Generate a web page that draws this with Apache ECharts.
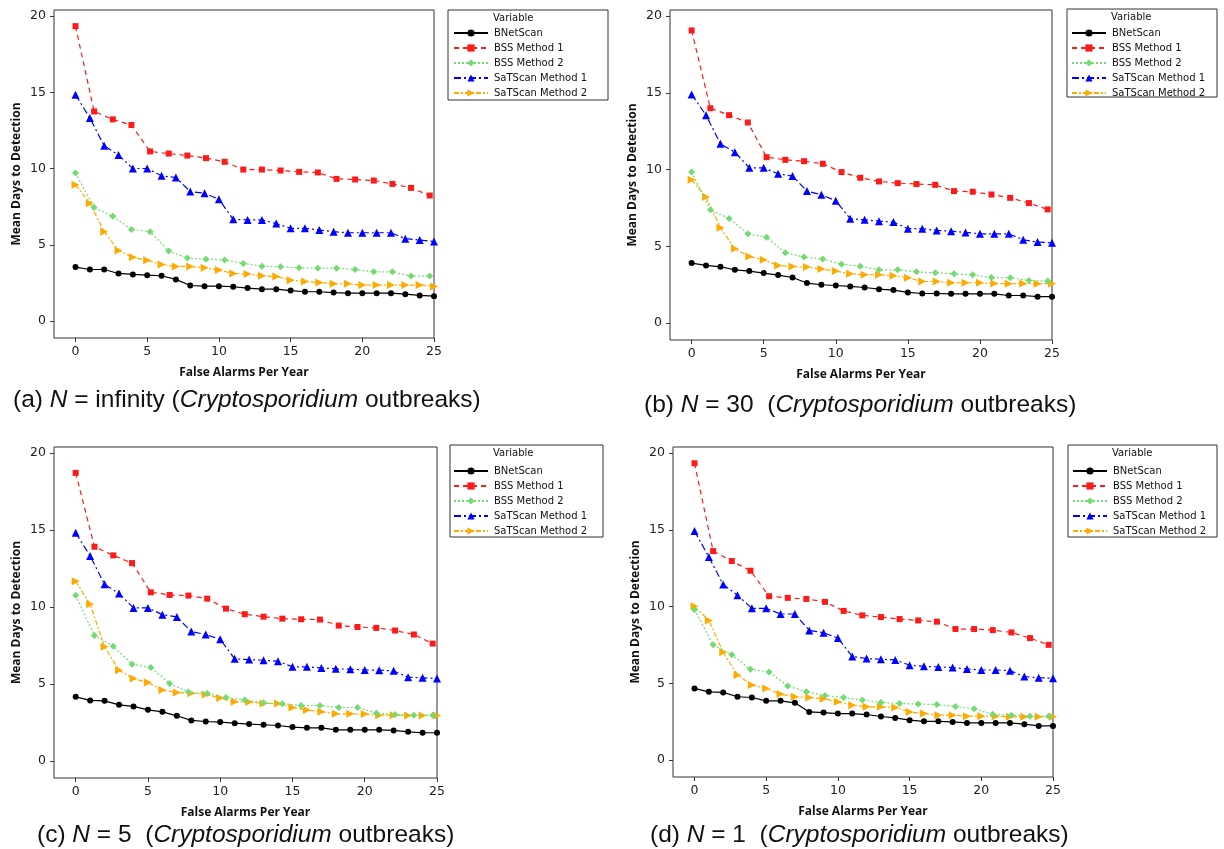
<!DOCTYPE html>
<html><head><meta charset="utf-8">
<script src="https://cdn.jsdelivr.net/npm/echarts@6.0.0/dist/echarts.min.js"></script>
<style>html,body{margin:0;padding:0;background:#fff}#c{width:1224px;height:849px}</style>
</head><body><div id="c"></div>
<script>
// ---------- data ----------
const seriesNames = ['BNetScan','BSS Method 1','BSS Method 2','SaTScan Method 1','SaTScan Method 2'];
const xTicks = [0,5,10,15,20,25];
const yTicks = [0,5,10,15,20];
// false alarms per year (x) for BNetScan / SaTScan series
const xInt = [0,1,2,3,4,5,6,7,8,9,10,11,12,13,14,15,16,17,18,19,20,21,22,23,24,25];
// false alarms per year (x) for BSS series
const xBss = [0,1.3,2.6,3.9,5.2,6.5,7.8,9.1,10.4,11.7,13,14.3,15.6,16.9,18.2,19.5,20.8,22.1,23.4,24.7];

// (a) N = infinity
const bnA   = [3.55,3.39,3.39,3.13,3.07,3.02,2.98,2.74,2.34,2.30,2.30,2.26,2.17,2.10,2.10,2.01,1.93,1.93,1.88,1.84,1.84,1.84,1.84,1.77,1.69,1.64];
const bss1A = [19.34,13.75,13.23,12.86,11.13,10.99,10.86,10.69,10.45,9.94,9.94,9.88,9.79,9.75,9.33,9.29,9.22,9.00,8.74,8.24];
const bss2A = [9.72,7.45,6.88,6.02,5.87,4.60,4.14,4.07,4.01,3.79,3.61,3.57,3.50,3.48,3.48,3.39,3.24,3.24,2.96,2.96];
const sat1A = [14.85,13.32,11.50,10.89,10.01,10.01,9.53,9.42,8.50,8.39,7.99,6.68,6.64,6.64,6.40,6.09,6.09,5.98,5.87,5.80,5.80,5.80,5.80,5.41,5.32,5.23];
const sat2A = [8.94,7.73,5.87,4.64,4.20,3.99,3.72,3.59,3.59,3.50,3.35,3.13,3.09,2.98,2.93,2.69,2.61,2.54,2.45,2.45,2.37,2.37,2.37,2.37,2.37,2.28];
// (b) N = 30
const bnB   = [3.91,3.76,3.67,3.47,3.39,3.26,3.13,2.97,2.61,2.50,2.45,2.39,2.32,2.21,2.15,2.00,1.93,1.93,1.91,1.91,1.91,1.91,1.80,1.80,1.72,1.72];
const bss1B = [19.07,14.00,13.55,13.07,10.81,10.64,10.55,10.38,9.84,9.47,9.23,9.12,9.06,9.01,8.60,8.56,8.38,8.16,7.82,7.41];
const bss2B = [9.84,7.38,6.82,5.82,5.60,4.58,4.30,4.17,3.84,3.71,3.47,3.47,3.34,3.28,3.21,3.15,2.97,2.95,2.78,2.74];
const sat1B = [14.90,13.55,11.68,11.14,10.12,10.12,9.73,9.58,8.60,8.36,7.97,6.80,6.73,6.64,6.58,6.15,6.15,6.04,5.99,5.91,5.82,5.82,5.82,5.43,5.28,5.23];
const sat2B = [9.34,8.21,6.21,4.84,4.34,4.13,3.76,3.69,3.65,3.52,3.39,3.21,3.15,3.15,3.08,2.95,2.71,2.71,2.63,2.63,2.63,2.58,2.56,2.58,2.56,2.58];
// (c) N = 5
const bnC   = [4.17,3.94,3.91,3.65,3.55,3.33,3.20,2.94,2.64,2.57,2.53,2.46,2.40,2.36,2.31,2.21,2.16,2.16,2.03,2.03,2.03,2.03,1.99,1.90,1.84,1.84];
const bss1C = [18.72,13.92,13.36,12.86,10.96,10.79,10.75,10.55,9.90,9.54,9.38,9.25,9.21,9.19,8.80,8.71,8.65,8.48,8.22,7.63];
const bss2C = [10.77,8.15,7.46,6.29,6.08,5.04,4.48,4.39,4.13,3.96,3.78,3.72,3.61,3.61,3.48,3.48,3.11,3.03,2.98,2.98];
const sat1C = [14.83,13.32,11.48,10.88,9.95,9.95,9.51,9.36,8.41,8.22,7.91,6.64,6.59,6.55,6.49,6.12,6.12,6.05,5.99,5.97,5.92,5.90,5.86,5.45,5.41,5.36];
const sat2C = [11.68,10.18,7.42,5.90,5.36,5.10,4.61,4.45,4.41,4.32,4.09,3.85,3.83,3.74,3.74,3.48,3.31,3.20,3.07,3.07,3.05,2.98,2.98,2.96,2.96,2.96];
// (d) N = 1
const bnD   = [4.67,4.45,4.41,4.13,4.08,3.86,3.86,3.73,3.14,3.10,3.03,3.03,2.97,2.84,2.75,2.60,2.53,2.53,2.49,2.42,2.42,2.42,2.42,2.34,2.23,2.23];
const bss1D = [19.34,13.62,12.97,12.34,10.68,10.57,10.50,10.31,9.72,9.43,9.32,9.19,9.10,9.02,8.54,8.54,8.47,8.32,7.95,7.51];
const bss2D = [9.80,7.51,6.86,5.92,5.74,4.83,4.45,4.21,4.08,3.91,3.76,3.69,3.65,3.62,3.49,3.34,2.99,2.93,2.86,2.86];
const sat1D = [14.93,13.23,11.44,10.74,9.89,9.89,9.52,9.52,8.45,8.30,7.95,6.75,6.62,6.57,6.53,6.18,6.11,6.07,6.03,5.94,5.87,5.87,5.83,5.44,5.37,5.33];
const sat2D = [10.02,9.10,7.03,5.55,4.89,4.67,4.30,4.13,4.08,4.00,3.80,3.58,3.47,3.47,3.43,3.14,3.03,2.93,2.93,2.86,2.86,2.86,2.82,2.82,2.82,2.82];

const captionsN = ['infinity','30 ','5 ','1 '];
const captionsL = ['(a)','(b)','(c)','(d)'];

// ---------- layout / styles ----------
const panels = [
  {grid:{left:54, top:10, width:380, height:328}, legend:{left:453, top:27}, box:[448,10,160,90], ys:[bnA,bss1A,bss2A,sat1A,sat2A], cap:{left:13, top:388}},
  {grid:{left:670, top:10, width:382, height:330}, legend:{left:1071, top:27}, box:[1067,9,150,88], ys:[bnB,bss1B,bss2B,sat1B,sat2B], cap:{left:644, top:393}},
  {grid:{left:54, top:447, width:383, height:331}, legend:{left:453, top:465}, box:[450,445,153,92], ys:[bnC,bss1C,bss2C,sat1C,sat2C], cap:{left:37, top:823}},
  {grid:{left:673, top:447, width:380, height:330}, legend:{left:1072, top:465}, box:[1068,445,149,92], ys:[bnD,bss1D,bss2D,sat1D,sat2D], cap:{left:650, top:823}}
];
const styles = [
  {color:'#000000', symbol:'circle', size:6, rot:0, dash:'solid', xs:xInt},
  {color:'#ff1a1a', symbol:'rect', size:6, rot:0, dash:[5,4], xs:xBss},
  {color:'#72dc72', symbol:'diamond', size:7, rot:0, dash:[2,2], xs:xBss},
  {color:'#0000ff', symbol:'triangle', size:8, rot:0, dash:[7,3,2,3], xs:xInt},
  {color:'#ffaa00', symbol:'triangle', size:8, rot:-90, dash:[5,2,2,2], xs:xInt}
];

const grids=[], xAxes=[], yAxes=[], series=[], legends=[], titles=[], graphics=[];
const axFont = {fontFamily:'DejaVu Sans', fontSize:12.5, color:'#222'};
const nameFont = {fontFamily:'Open Sans', fontWeight:'bold', fontSize:12, color:'#111'};

panels.forEach((p, k) => {
  grids.push(Object.assign({show:true, borderColor:'#333', borderWidth:1, backgroundColor:'#fff'}, p.grid));
  xAxes.push({type:'value', gridIndex:k, min:-1.5, max:25, position:'bottom',
    name:'False Alarms Per Year', nameLocation:'middle', nameGap:29, nameTextStyle:nameFont,
    axisLine:{show:false, onZero:false}, splitLine:{show:false},
    axisTick:{show:true, inside:false, length:4, lineStyle:{color:'#333'}, customValues:xTicks},
    axisLabel:Object.assign({margin:7, customValues:xTicks}, axFont)});
  yAxes.push({type:'value', gridIndex:k, min:-1.1, max:20.4, position:'left',
    name:'Mean Days to Detection', nameLocation:'middle', nameGap:31, nameRotate:90, nameTextStyle:nameFont,
    axisLine:{show:false, onZero:false}, splitLine:{show:false},
    axisTick:{show:true, inside:false, length:4, lineStyle:{color:'#333'}, customValues:yTicks},
    axisLabel:Object.assign({margin:8, customValues:yTicks}, axFont)});
  styles.forEach((s, j) => {
    const ys = p.ys[j];
    series.push({type:'line', name:seriesNames[j], xAxisIndex:k, yAxisIndex:k,
      data: ys.map((v,i)=>[s.xs[i], v]),
      symbol:s.symbol, symbolSize:s.size, symbolRotate:s.rot, showAllSymbol:true,
      itemStyle:{color:s.color}, lineStyle:{color:s.color, width:1.2, type:s.dash},
      animation:false, z:10-j});
  });
  legends.push({orient:'vertical', left:p.legend.left, top:p.legend.top, padding:0,
    itemWidth:34, itemHeight:9, itemGap:3, data:seriesNames.slice(), selectedMode:false,
    textStyle:{fontFamily:'DejaVu Sans', fontSize:10, color:'#111', lineHeight:12, padding:[0,0,0,1]}});
  graphics.push({type:'rect', shape:{x:p.box[0], y:p.box[1], width:p.box[2], height:p.box[3]},
    style:{fill:'none', stroke:'#333', lineWidth:1}, silent:true});
  graphics.push({type:'text', left:p.legend.left+40, top:p.box[1]+3,
    style:{text:'Variable', font:'10px "DejaVu Sans"', fill:'#111'}, silent:true});
  titles.push({left:p.cap.left, top:p.cap.top, padding:0,
    text:'{n|'+captionsL[k]+' }{i|N}{n| = '+captionsN[k]+' (}{i|Cryptosporidium}{n| outbreaks)}',
    textStyle:{fontWeight:'normal', rich:{
      n:{fontFamily:'Liberation Sans', fontWeight:'normal', fontSize:24.5, color:'#111'},
      i:{fontFamily:'Liberation Sans', fontWeight:'normal', fontStyle:'italic', fontSize:24.5, color:'#111'}}}});
});

const chart = echarts.init(document.getElementById('c'), null, {renderer:'canvas'});
chart.setOption({backgroundColor:'#fff', animation:false, title:titles, grid:grids, xAxis:xAxes, yAxis:yAxes,
  legend:legends, series:series, graphic:graphics});
</script></body></html>
